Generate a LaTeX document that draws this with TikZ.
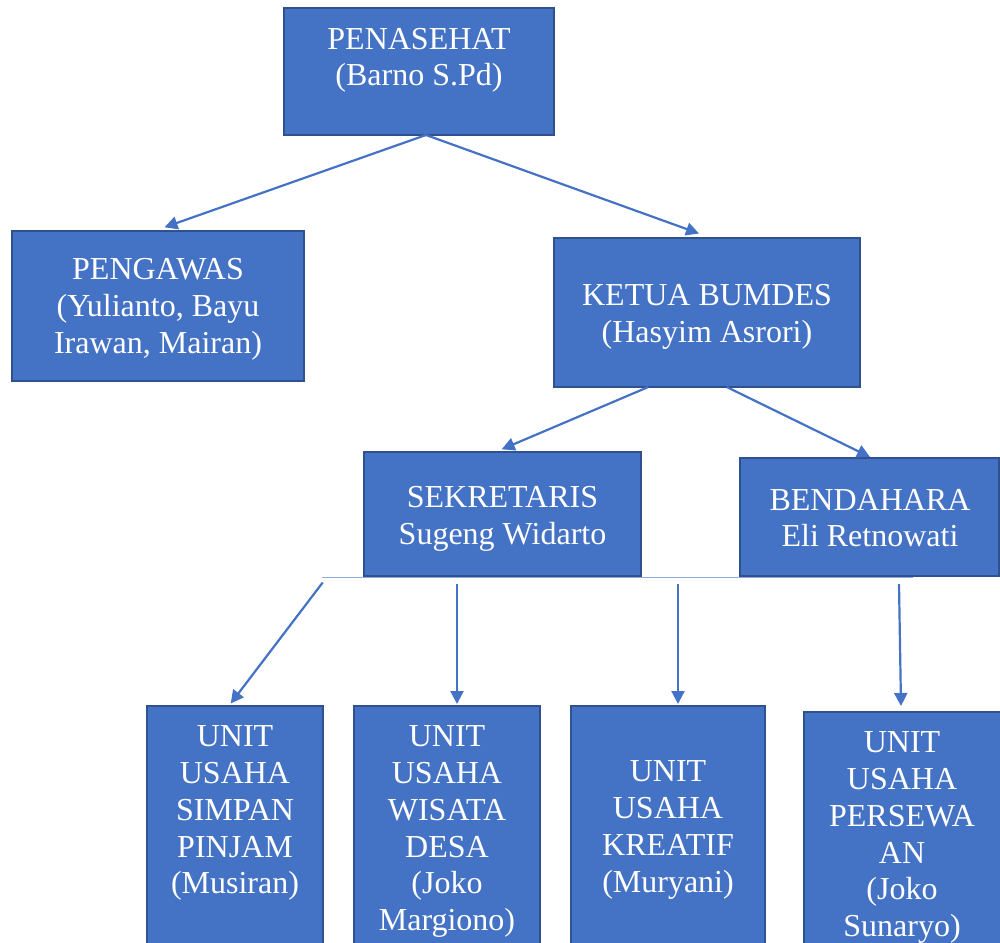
\documentclass[tikz,border=0pt]{standalone}
\usepackage{fontspec}
\setmainfont{Liberation Serif}
\usetikzlibrary{arrows.meta,calc}
\definecolor{boxfill}{HTML}{4472C4}
\definecolor{boxedge}{HTML}{2F528F}
\definecolor{linkcol}{HTML}{4472C4}
\definecolor{barcol}{HTML}{8FAADC}
\begin{document}
\begin{tikzpicture}[x=1pt,y=-1pt,
  orgbox/.style={draw=boxedge,fill=boxfill,line width=2pt,anchor=north west,inner sep=0pt,outer sep=0pt},
  lbl/.style={text=white,font=\fontsize{32}{36.8}\selectfont,align=center,anchor=base,inner sep=0pt},
  link/.style={draw=linkcol,line width=2.2pt,-{Triangle[length=13pt,width=13pt]}},
  bar/.style={draw=barcol,line width=1.6pt}
]
\useasboundingbox (0,0) rectangle (1000,942);
\clip (0,0) rectangle (1000,942);

% boxes
\node[orgbox,minimum width=270pt,minimum height=127pt] (pen) at (284,8) {};
\node[orgbox,minimum width=292pt,minimum height=150pt] (peng) at (12,231) {};
\node[orgbox,minimum width=306pt,minimum height=149.5pt] (ketua) at (554,237.5) {};
\node[orgbox,minimum width=277pt,minimum height=124pt] (sek) at (364,452) {};
\node[orgbox,minimum width=259pt,minimum height=118pt] (bend) at (740,458) {};
\node[orgbox,minimum width=176pt,minimum height=260pt] (u1) at (147,705.5) {};
\node[orgbox,minimum width=186pt,minimum height=260pt] (u2) at (354,706) {};
\node[orgbox,minimum width=194pt,minimum height=260pt] (u3) at (571,706) {};
\node[orgbox,minimum width=210pt,minimum height=260pt] (u4) at (804,712) {};

% labels (anchor = baseline of the last line)
\node[lbl] (penT) at (419,85.8) {PENASEHAT\\(Barno S.Pd)};
\node[lbl] (pengT) at (158,353) {PENGAWAS\\(Yulianto, Bayu\\Irawan, Mairan)};
\node[lbl] (ketT) at (707,342.3) {KETUA BUMDES\\(Hasyim Asrori)};
\node[lbl] (sekT) at (502.5,544.7) {SEKRETARIS\\Sugeng Widarto};
\node[lbl] (bendT) at (870,546.8) {BENDAHARA\\Eli Retnowati};
\node[lbl] (u1T) at (235,893.9) {UNIT\\USAHA\\SIMPAN\\PINJAM\\(Musiran)};
\node[lbl] (u2T) at (447,930.7) {UNIT\\USAHA\\WISATA\\DESA\\(Joko\\Margiono)};
\node[lbl] (u3T) at (668,892.1) {UNIT\\USAHA\\KREATIF\\(Muryani)};
\node[lbl] (u4T) at (902,936.7) {UNIT\\USAHA\\PERSEWA\\AN\\(Joko\\Sunaryo)};

% bar under sekretaris / bendahara
\coordinate (barL) at (322,577.5);
\coordinate (barR) at (913,577.5);
\draw[bar] (barL) -- (barR);

% connectors
\draw[link] ([xshift=7pt]pen.south) -- ([xshift=152.5pt,yshift=3.7pt]peng.north west);
\draw[link] ([xshift=7pt]pen.south) -- ([xshift=145pt,yshift=4pt]ketua.north west);
\draw[link] ([xshift=-58.7pt]ketua.south) -- ([xshift=137.7pt,yshift=2.7pt]sek.north west);
\draw[link] ([xshift=19.7pt]ketua.south) -- ([xshift=130pt,yshift=1pt]bend.north west);

\draw[link] ([xshift=0.7pt,yshift=-5pt]barL) -- ([xshift=83.7pt,yshift=2pt]u1.north west);
\draw[link] ([xshift=135pt,yshift=-6.5pt]barL) -- ([xshift=103pt,yshift=2pt]u2.north west);
\draw[link] ([xshift=356pt,yshift=-6.5pt]barL) -- ([xshift=107pt,yshift=2pt]u3.north west);
\draw[link] ([xshift=577pt,yshift=-6.5pt]barL) -- ([xshift=97pt,yshift=6pt]u4.north west);
\end{tikzpicture}
\end{document}
